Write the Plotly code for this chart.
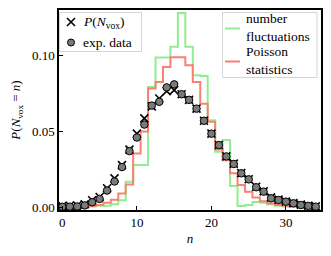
import plotly.graph_objects as go

n = list(range(0, 35))

p_nvox = [0.0008, 0.0010, 0.0012, 0.0020, 0.0046, 0.0068, 0.0125, 0.0190, 0.0278, 0.0380,
          0.0485, 0.0586, 0.0665, 0.0717, 0.0765, 0.0772, 0.0745, 0.0708, 0.0650, 0.0570,
          0.0485, 0.0410, 0.0335, 0.0288, 0.0225, 0.0185, 0.0135, 0.0105, 0.0065, 0.0050,
          0.0038, 0.0027, 0.0017, 0.0010, 0.0006]

exp_data = [0.0003, 0.0004, 0.0005, 0.0012, 0.0033, 0.0055, 0.0110, 0.0170, 0.0265, 0.0370,
            0.0460, 0.0545, 0.0670, 0.0695, 0.0790, 0.0810, 0.0745, 0.0708, 0.0650, 0.0570,
            0.0485, 0.0410, 0.0335, 0.0285, 0.0224, 0.0184, 0.0132, 0.0103, 0.0059, 0.0048,
            0.0037, 0.0026, 0.0015, 0.0009, 0.0004]

number_fluct = [0.0005, 0.0010, 0.0010, 0.0005, 0.0005, 0.0010, 0.0010, 0.0020, 0.0046, 0.0168,
                0.0278, 0.0278, 0.0793, 0.0987, 0.0987, 0.1057, 0.1280, 0.1057, 0.0870, 0.0865,
                0.0574, 0.0366, 0.0443, 0.0140, 0.0008, 0.0015, 0.0035, 0.0030, 0.0020, 0.0010,
                0.0005, 0.0003, 0.0002, 0.0001, 0.0001]

poisson = [0.0000, 0.0000, 0.0000, 0.0002, 0.0008, 0.0015, 0.0030, 0.0050, 0.0090, 0.0150,
           0.0355, 0.0500, 0.0783, 0.0826, 0.0925, 0.0988, 0.0988, 0.0936, 0.0826, 0.0682,
           0.0563, 0.0380, 0.0310, 0.0224, 0.0147, 0.0103, 0.0065, 0.0040, 0.0025, 0.0015,
           0.0010, 0.0006, 0.0003, 0.0002, 0.0001]

x_ticks = [0, 10, 20, 30]
y_ticks = [0.0, 0.05, 0.10]

legend_labels = ["<i>P</i>(<i>N</i><sub>vox</sub>)", "exp. data",
                 "number<br>fluctuations", "Poisson<br>statistics"]

FONT = "Liberation Serif, DejaVu Serif, serif"
GREEN = "#90ee90"
RED = "#fa8072"
GREY = "#7a7a7a"

fig = go.Figure()

fig.add_trace(go.Scatter(
    x=n, y=number_fluct, mode="lines", line=dict(shape="hvh", color=GREEN, width=2),
    name=legend_labels[2], showlegend=False))
fig.add_trace(go.Scatter(
    x=n, y=poisson, mode="lines", line=dict(shape="hvh", color=RED, width=2),
    name=legend_labels[3], showlegend=False))
fig.add_trace(go.Scatter(
    x=n, y=p_nvox, mode="markers",
    marker=dict(symbol="x-thin", size=8, line=dict(color="black", width=1.6), color="black"),
    name=legend_labels[0], showlegend=False))
fig.add_trace(go.Scatter(
    x=n, y=exp_data, mode="markers",
    marker=dict(symbol="circle", size=7.5, color=GREY, line=dict(color="black", width=1)),
    name=legend_labels[1], showlegend=False))

axis_common = dict(
    showline=True, linecolor="black", linewidth=1.5, mirror=True,
    ticks="inside", ticklen=4, tickwidth=1, tickcolor="black",
    showgrid=False, zeroline=False, automargin=False,
    tickfont=dict(family=FONT, size=13, color="black"),
)

fig.update_xaxes(range=[-0.45, 34.7], tickvals=x_ticks, **axis_common,
                 title=dict(text="<i>n</i>", font=dict(family=FONT, size=13, color="black"), standoff=5))
fig.update_yaxes(range=[-0.0018, 0.13], tickvals=y_ticks, tickformat=".2f", **axis_common,
                 title=dict(text="<i>P</i>(<i>N</i><sub>vox</sub> = <i>n</i>)",
                            font=dict(family=FONT, size=13, color="black"), standoff=8))

# --- page-pixel helpers (plot area spans x 59..321, y 10..210 on the page) ---
def px(x):
    return (x - 59) / 262.0

def py(y):
    return (210 - y) / 200.0

shapes = []
annotations = []

def box(x0, y0, x1, y1):
    shapes.append(dict(type="rect", xref="paper", yref="paper",
                       x0=px(x0), x1=px(x1), y0=py(y1), y1=py(y0),
                       fillcolor="rgba(255,255,255,0.85)", line=dict(color="#d4d4d4", width=1)))

def label(x, y, text):
    annotations.append(dict(xref="paper", yref="paper", x=px(x), y=py(y), text=text,
                            showarrow=False, xanchor="left", yanchor="middle", align="left",
                            font=dict(family=FONT, size=13.5, color="black")))

# left legend
box(59.5, 12.5, 141.5, 51.5)
cx, cy, r = 71, 22, 4
shapes.append(dict(type="line", xref="paper", yref="paper", x0=px(cx - r), x1=px(cx + r),
                   y0=py(cy - r), y1=py(cy + r), line=dict(color="black", width=1.6)))
shapes.append(dict(type="line", xref="paper", yref="paper", x0=px(cx - r), x1=px(cx + r),
                   y0=py(cy + r), y1=py(cy - r), line=dict(color="black", width=1.6)))
label(81, 22, legend_labels[0])
cx, cy, r = 71, 42.5, 3.5
shapes.append(dict(type="circle", xref="paper", yref="paper", x0=px(cx - r), x1=px(cx + r),
                   y0=py(cy + r), y1=py(cy - r), fillcolor=GREY, line=dict(color="black", width=1)))
label(81, 42.5, legend_labels[1])

# right legend
box(222.5, 12.5, 317, 77.5)
shapes.append(dict(type="line", xref="paper", yref="paper", x0=px(225), x1=px(240),
                   y0=py(28.5), y1=py(28.5), line=dict(color=GREEN, width=2)))
label(244, 27.5, legend_labels[2])
shapes.append(dict(type="line", xref="paper", yref="paper", x0=px(225), x1=px(240),
                   y0=py(61.5), y1=py(61.5), line=dict(color=RED, width=2)))
label(244, 60.5, legend_labels[3])

# page has an 8px body margin: shrink the figure so the plot area lands at the right place
fig.update_layout(
    width=323, height=248,
    margin=dict(l=51, r=10, t=2, b=46),
    plot_bgcolor="white", paper_bgcolor="white",
    showlegend=False,
    shapes=shapes, annotations=annotations,
)

fig.write_html("out.html")
